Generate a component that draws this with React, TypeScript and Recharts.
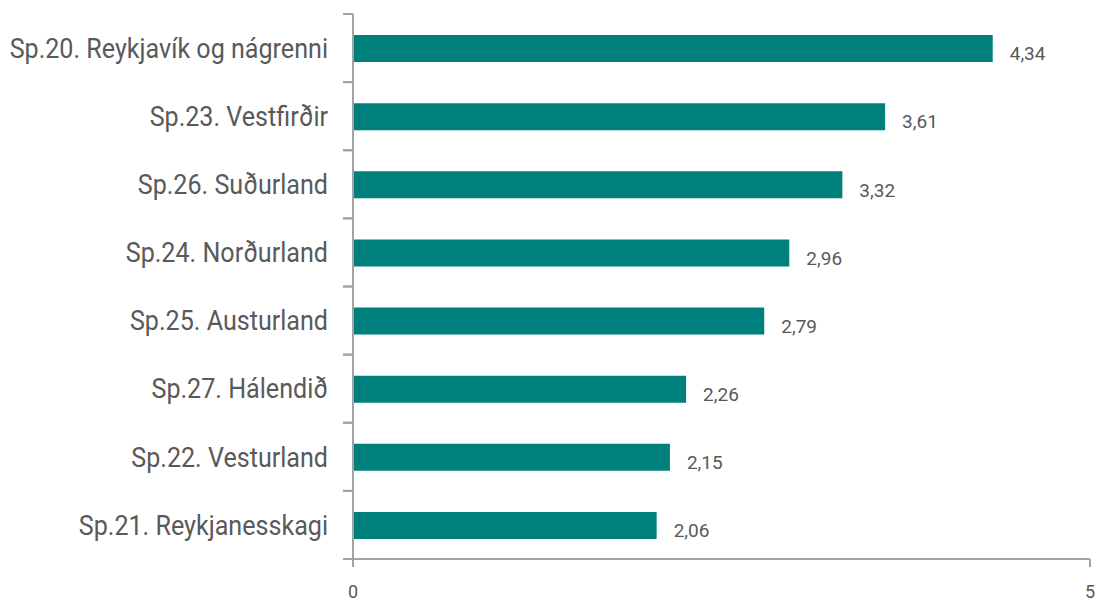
import React from "react"
import { BarChart, Bar, XAxis, YAxis, LabelList } from "recharts"

const regions = [
  "Sp.20. Reykjavík og nágrenni",
  "Sp.23. Vestfirðir",
  "Sp.26. Suðurland",
  "Sp.24. Norðurland",
  "Sp.25. Austurland",
  "Sp.27. Hálendið",
  "Sp.22. Vesturland",
  "Sp.21. Reykjanesskagi",
]
const values = [4.34, 3.61, 3.32, 2.96, 2.79, 2.26, 2.15, 2.06]
const xTicks = [0, 5]

const data = regions.map((name, i) => ({ name, value: values[i] }))

const axisColor = "#a3a3a3"
const textColor = "#595959"

// category label plus tick marks on the band edges (like Excel)
const CategoryTick = (props: any) => {
  const { x, y, payload } = props
  const axisX = x + 25
  const half = payload.offset || 0
  return (
    <g>
      <line x1={axisX - 10} x2={axisX} y1={y - half} y2={y - half} stroke={axisColor} strokeWidth={2} />
      <line x1={axisX - 10} x2={axisX} y1={y + half} y2={y + half} stroke={axisColor} strokeWidth={2} />
      {/* condensed look: squeeze the text horizontally */}
      <g transform={`translate(${x},${y}) scale(0.93,1)`}>
        <text
          x={0}
          y={0}
          dy="0.36em"
          textAnchor="end"
          fill={textColor}
          fontSize={27}
          fontFamily="Roboto, sans-serif"
        >
          {payload.value}
        </text>
      </g>
    </g>
  )
}

const ValueLabel = (props: any) => {
  const { x, y, width, height, value } = props
  return (
    <text
      x={x + width + 17}
      y={y + height / 2 + 5}
      dy="0.36em"
      fill={textColor}
      fontSize={19}
      fontFamily="Roboto, sans-serif"
    >
      {Number(value).toFixed(2).replace(".", ",")}
    </text>
  )
}

export default function App() {
  return (
    <div style={{ position: "absolute", left: 0, top: 0, background: "#fff" }}>
      <BarChart
        width={1108}
        height={601}
        data={data}
        layout="vertical"
        margin={{ top: 14, right: 18, left: 0, bottom: 0 }}
        barCategoryGap={0}
      >
        <XAxis
          type="number"
          domain={[0, 5]}
          ticks={xTicks}
          height={42}
          axisLine={{ stroke: axisColor, strokeWidth: 2 }}
          tickLine={{ stroke: axisColor, strokeWidth: 2 }}
          tickSize={8}
          tickMargin={18}
          tick={{ fill: textColor, fontSize: 18, fontFamily: "Roboto, sans-serif" }}
        />
        <YAxis
          type="category"
          dataKey="name"
          width={353}
          axisLine={{ stroke: axisColor, strokeWidth: 2 }}
          tickLine={false}
          tickSize={10}
          tickMargin={15}
          interval={0}
          tick={<CategoryTick />}
        />
        <Bar dataKey="value" fill="#00807d" barSize={27} isAnimationActive={false}>
          <LabelList dataKey="value" content={<ValueLabel />} />
        </Bar>
      </BarChart>
    </div>
  )
}
